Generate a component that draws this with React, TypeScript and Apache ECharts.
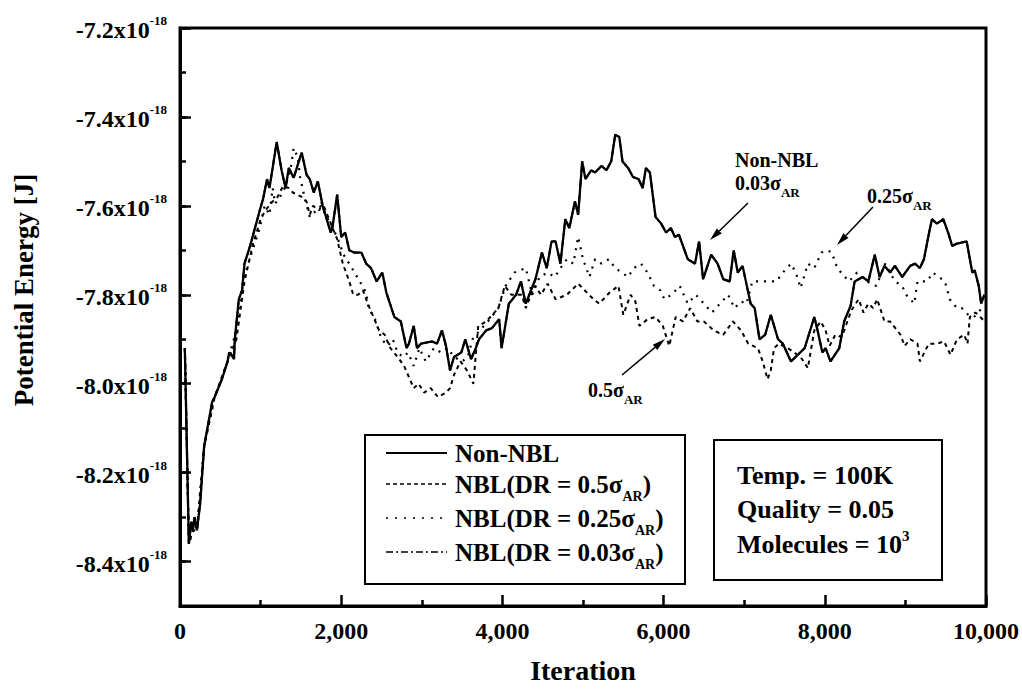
import React, { useEffect, useRef } from "react";
import * as echarts from "echarts";

const FONT = "'Liberation Serif', 'Times New Roman', serif";

// Potential energy in units of 1e-18 J against iteration count
const nonNbl: number[][] = [
  [60, -7.92], [110, -8.36], [140, -8.31], [160, -8.33], [180, -8.30], [210, -8.33], [250, -8.27], [300, -8.14],
  [400, -8.04], [430, -8.03], [520, -7.99], [590, -7.95], [610, -7.93], [640, -7.935], [670, -7.945], [680, -7.90],
  [730, -7.81], [770, -7.79], [800, -7.73], [870, -7.69], [930, -7.65], [990, -7.61], [1030, -7.585], [1080, -7.54],
  [1110, -7.56], [1200, -7.456], [1260, -7.52], [1310, -7.56], [1350, -7.515], [1410, -7.537], [1510, -7.48],
  [1570, -7.53], [1610, -7.54], [1660, -7.57], [1710, -7.545], [1770, -7.60], [1870, -7.66], [1890, -7.65],
  [1950, -7.575], [2000, -7.67], [2050, -7.66], [2100, -7.70], [2160, -7.705], [2250, -7.705], [2310, -7.73],
  [2370, -7.74], [2440, -7.77], [2510, -7.75], [2560, -7.795], [2660, -7.85], [2740, -7.86], [2810, -7.92],
  [2840, -7.91], [2900, -7.87], [2940, -7.92], [2990, -7.91], [3130, -7.905], [3190, -7.91], [3250, -7.88],
  [3300, -7.915], [3350, -7.97], [3400, -7.94], [3490, -7.93], [3540, -7.90], [3610, -7.945], [3670, -7.92],
  [3710, -7.90], [3800, -7.88], [3870, -7.875], [3960, -7.855], [3990, -7.92], [4080, -7.82], [4170, -7.80],
  [4230, -7.77], [4290, -7.82], [4410, -7.765], [4490, -7.705], [4550, -7.74], [4610, -7.68], [4660, -7.68],
  [4720, -7.73], [4780, -7.63], [4830, -7.65], [4900, -7.59], [4940, -7.62], [4990, -7.50], [5030, -7.54],
  [5100, -7.52], [5150, -7.525], [5230, -7.51], [5290, -7.52], [5350, -7.50], [5400, -7.44], [5450, -7.445],
  [5490, -7.50], [5560, -7.515], [5620, -7.535], [5690, -7.54], [5740, -7.56], [5780, -7.515], [5830, -7.525],
  [5900, -7.625], [5970, -7.64], [6030, -7.66], [6090, -7.65], [6140, -7.67], [6190, -7.665], [6240, -7.69],
  [6300, -7.72], [6390, -7.73], [6440, -7.68], [6490, -7.765], [6590, -7.71], [6670, -7.73], [6740, -7.765],
  [6820, -7.77], [6870, -7.70], [6920, -7.75], [6980, -7.735], [7080, -7.82], [7130, -7.83], [7190, -7.90],
  [7260, -7.89], [7330, -7.845], [7420, -7.90], [7480, -7.91], [7580, -7.95], [7750, -7.92], [7870, -7.85],
  [7910, -7.88], [7970, -7.93], [8010, -7.92], [8070, -7.95], [8180, -7.92], [8240, -7.86], [8320, -7.825],
  [8370, -7.77], [8470, -7.76], [8540, -7.77], [8620, -7.71], [8680, -7.76], [8740, -7.735], [8810, -7.75],
  [8870, -7.735], [8960, -7.76], [9060, -7.735], [9120, -7.73], [9180, -7.74], [9230, -7.72], [9300, -7.655],
  [9330, -7.63], [9390, -7.64], [9470, -7.63], [9530, -7.66], [9580, -7.69], [9640, -7.685], [9760, -7.68],
  [9830, -7.75], [9860, -7.745], [9910, -7.78], [9940, -7.82], [9980, -7.80],
];

const nbl05: number[][] = [
  [60, -7.92], [110, -8.36], [160, -8.33], [210, -8.33], [300, -8.14], [430, -8.03], [590, -7.95], [700, -7.90],
  [800, -7.77], [900, -7.69], [1000, -7.63], [1060, -7.61], [1150, -7.59], [1210, -7.58], [1280, -7.555],
  [1350, -7.56], [1400, -7.57], [1510, -7.58], [1570, -7.59], [1610, -7.62], [1650, -7.60], [1730, -7.61],
  [1760, -7.59], [1950, -7.675], [2020, -7.73], [2100, -7.77], [2150, -7.80], [2210, -7.80], [2270, -7.79],
  [2330, -7.82], [2400, -7.85], [2470, -7.88], [2540, -7.89], [2610, -7.92], [2700, -7.94], [2780, -7.96],
  [2840, -7.985], [2900, -8.01], [2960, -8.00], [3030, -8.02], [3110, -8.01], [3200, -8.03], [3300, -8.02],
  [3350, -8.01], [3400, -7.98], [3480, -7.95], [3560, -7.97], [3640, -8.00], [3700, -7.87], [3800, -7.86],
  [3950, -7.83], [4030, -7.78], [4110, -7.80], [4240, -7.80], [4290, -7.83], [4400, -7.78], [4480, -7.80],
  [4560, -7.775], [4660, -7.81], [4800, -7.80], [4940, -7.775], [5020, -7.79], [5130, -7.81], [5200, -7.82],
  [5330, -7.795], [5440, -7.78], [5500, -7.845], [5590, -7.80], [5650, -7.815], [5700, -7.87], [5800, -7.855],
  [5900, -7.85], [5990, -7.87], [6070, -7.915], [6150, -7.85], [6240, -7.86], [6330, -7.83], [6420, -7.86],
  [6500, -7.86], [6620, -7.88], [6740, -7.89], [6860, -7.86], [6960, -7.88], [7050, -7.91], [7170, -7.92],
  [7230, -7.95], [7290, -7.99], [7330, -7.97], [7370, -7.92], [7430, -7.91], [7540, -7.92], [7620, -7.93],
  [7700, -7.94], [7790, -7.965], [7870, -7.88], [7950, -7.86], [8010, -7.88], [8060, -7.915], [8130, -7.89],
  [8210, -7.895], [8290, -7.855], [8330, -7.835], [8420, -7.81], [8480, -7.84], [8540, -7.82], [8600, -7.83],
  [8650, -7.81], [8740, -7.86], [8810, -7.86], [8940, -7.89], [8990, -7.915], [9060, -7.90], [9150, -7.91],
  [9180, -7.95], [9290, -7.91], [9390, -7.91], [9480, -7.905], [9560, -7.935], [9640, -7.90], [9730, -7.89],
  [9770, -7.91], [9800, -7.85], [9870, -7.84], [9930, -7.85], [9980, -7.86],
];

const nbl025: number[][] = [
  [60, -7.92], [110, -8.36], [160, -8.33], [210, -8.33], [300, -8.14], [430, -8.03], [590, -7.95], [700, -7.88],
  [780, -7.77], [830, -7.74], [900, -7.70], [990, -7.65], [1050, -7.60], [1110, -7.62], [1150, -7.56],
  [1180, -7.595], [1240, -7.58], [1300, -7.56], [1370, -7.52], [1410, -7.47], [1460, -7.49], [1490, -7.535],
  [1550, -7.585], [1610, -7.625], [1690, -7.61], [1750, -7.60], [1950, -7.67], [2030, -7.71], [2100, -7.73],
  [2230, -7.77], [2310, -7.795], [2340, -7.83], [2420, -7.855], [2500, -7.90], [2580, -7.915], [2640, -7.90],
  [2700, -7.93], [2770, -7.94], [2830, -7.93], [2900, -7.96], [2970, -7.92], [3050, -7.95], [3150, -7.92],
  [3240, -7.93], [3320, -7.92], [3400, -7.94], [3500, -7.95], [3570, -7.94], [3630, -7.90], [3720, -7.88],
  [3820, -7.86], [3950, -7.83], [4040, -7.78], [4150, -7.75], [4290, -7.74], [4370, -7.80], [4460, -7.76],
  [4560, -7.75], [4650, -7.76], [4720, -7.74], [4800, -7.72], [4880, -7.73], [4940, -7.67], [5000, -7.72],
  [5080, -7.76], [5150, -7.72], [5230, -7.73], [5320, -7.72], [5400, -7.74], [5480, -7.75], [5560, -7.76],
  [5630, -7.74], [5720, -7.73], [5800, -7.75], [5880, -7.78], [5960, -7.79], [6010, -7.81], [6100, -7.80],
  [6200, -7.78], [6300, -7.82], [6400, -7.80], [6500, -7.82], [6600, -7.84], [6700, -7.82], [6800, -7.80],
  [6880, -7.83], [6960, -7.815], [7030, -7.82], [7100, -7.77], [7200, -7.77], [7300, -7.77], [7400, -7.77],
  [7480, -7.75], [7580, -7.73], [7640, -7.75], [7700, -7.785], [7790, -7.73], [7870, -7.74], [7960, -7.705],
  [8030, -7.70], [8090, -7.705], [8130, -7.73], [8200, -7.75], [8300, -7.77], [8400, -7.75], [8520, -7.77],
  [8640, -7.78], [8750, -7.73], [8870, -7.77], [8960, -7.78], [9010, -7.80], [9110, -7.82], [9150, -7.77],
  [9270, -7.77], [9340, -7.75], [9490, -7.77], [9550, -7.81], [9640, -7.83], [9700, -7.83], [9780, -7.845],
  [9850, -7.85], [9950, -7.83],
];

// The 0.03 sigma run lies on top of the Non-NBL run
const nbl003: number[][] = nonNbl;

const yMajorTicks = [-8.4, -8.2, -8.0, -7.8, -7.6, -7.4, -7.2];
const yMin = -8.5;
const yMax = -7.2;
const xMin = 0;
const xMax = 10000;

const legendRows = [
  { text: "{m|Non-NBL}", dash: null as number[] | null },
  { text: "{m|NBL(DR = 0.5σ}{s|AR}{m|)}", dash: [4, 3] },
  { text: "{m|NBL(DR = 0.25σ}{s|AR}{m|)}", dash: [2, 7] },
  { text: "{m|NBL(DR = 0.03σ}{s|AR}{m|)}", dash: [7, 3, 2, 3] },
];

const infoLines = ["{m|Temp. = 100K}", "{m|Quality = 0.05}", "{m|Molecules = 10}{p|3}"];

const subRich = (main: number, sub: number, drop: number) => ({
  m: { fontSize: main, fontWeight: "bold", fontFamily: FONT, color: "#000", verticalAlign: "top" },
  s: { fontSize: sub, fontWeight: "bold", fontFamily: FONT, color: "#000", verticalAlign: "top", padding: [drop, 0, 0, 0] },
});

function arrow(x1: number, y1: number, x2: number, y2: number) {
  const ang = Math.atan2(y2 - y1, x2 - x1);
  const len = 13;
  const half = 3.5;
  const bx = x2 - len * Math.cos(ang);
  const by = y2 - len * Math.sin(ang);
  const px = -Math.sin(ang) * half;
  const py = Math.cos(ang) * half;
  return [
    { type: "line", shape: { x1, y1, x2: bx, y2: by }, style: { stroke: "#000", lineWidth: 1.5 } },
    {
      type: "polygon",
      shape: { points: [[x2, y2], [bx + px, by + py], [bx - px, by - py]] },
      style: { fill: "#000" },
    },
  ];
}

export default function App() {
  const ref = useRef<HTMLDivElement>(null);

  useEffect(() => {
    if (!ref.current) return;
    const chart = echarts.init(ref.current, null, { renderer: "svg" });

    const legendGraphics: any[] = [
      {
        type: "rect",
        shape: { x: 365, y: 435, width: 320, height: 149 },
        style: { fill: "#fff", stroke: "#000", lineWidth: 2 },
      },
    ];
    const rowY = [453, 484, 518, 552];
    legendRows.forEach((row, i) => {
      legendGraphics.push({
        type: "line",
        shape: { x1: 386, y1: rowY[i], x2: 447, y2: rowY[i] },
        style: { stroke: "#000", lineWidth: row.dash ? 1.6 : 2, lineDash: row.dash || undefined },
      });
      legendGraphics.push({
        type: "text",
        x: 455,
        y: rowY[i] - 12.5,
        style: { text: row.text, rich: subRich(25, 14, 18), verticalAlign: "top", align: "left" },
      });
    });

    const infoGraphics: any[] = [
      {
        type: "rect",
        shape: { x: 714, y: 440, width: 228, height: 140 },
        style: { fill: "#fff", stroke: "#000", lineWidth: 2 },
      },
    ];
    const infoBaseY = [462, 496, 528];
    infoLines.forEach((t, i) => {
      infoGraphics.push({
        type: "text",
        x: 737,
        y: infoBaseY[i],
        style: {
          text: t,
          verticalAlign: "top",
          align: "left",
          rich: {
            m: { fontSize: 26, fontWeight: "bold", fontFamily: FONT, color: "#000", verticalAlign: "bottom" },
            p: { fontSize: 15, fontWeight: "bold", fontFamily: FONT, color: "#000", verticalAlign: "top", padding: [0, 0, 14, 0] },
          },
        },
      });
    });

    const noteRich = subRich(20, 13, 13);
    const notes: any[] = [
      { type: "text", x: 735, y: 150, style: { text: "{m|Non-NBL}", rich: noteRich } },
      { type: "text", x: 735, y: 173, style: { text: "{m|0.03σ}{s|AR}", rich: noteRich } },
      { type: "text", x: 867, y: 186, style: { text: "{m|0.25σ}{s|AR}", rich: noteRich } },
      { type: "text", x: 588, y: 380, style: { text: "{m|0.5σ}{s|AR}", rich: noteRich } },
      ...arrow(748, 203, 710, 240),
      ...arrow(873, 207, 837, 245),
      ...arrow(622, 375, 665, 339),
    ];

    const yName = {
      type: "text",
      x: 24,
      y: 290,
      rotation: Math.PI / 2,
      style: {
        text: "Potential Energy [J]",
        font: `bold 27px ${FONT}`,
        fill: "#000",
        align: "center",
        verticalAlign: "middle",
      },
    };

    const tickStyle = { color: "#000", width: 2.5 };

    chart.setOption({
      animation: false,
      backgroundColor: "#fff",
      grid: {
        left: 180,
        top: 28,
        right: 33,
        bottom: 82,
        show: true,
        borderColor: "#000",
        borderWidth: 3,
        backgroundColor: "transparent",
      },
      xAxis: {
        type: "value",
        min: xMin,
        max: xMax,
        interval: 2000,
        name: "Iteration",
        nameLocation: "middle",
        nameGap: 50,
        nameTextStyle: { fontSize: 28, fontWeight: "bold", fontFamily: FONT, color: "#000" },
        axisLine: { show: true, onZero: false, lineStyle: { color: "#000", width: 3 } },
        axisTick: { show: true, inside: true, length: 11, lineStyle: tickStyle },
        minorTick: { show: true, splitNumber: 2, length: 6, lineStyle: tickStyle },
        axisLabel: {
          margin: 13,
          fontSize: 24,
          fontWeight: "bold",
          fontFamily: FONT,
          color: "#000",
          formatter: (v: number) => Math.round(v).toLocaleString("en-US"),
        },
        splitLine: { show: false },
        minorSplitLine: { show: false },
      },
      yAxis: [
        {
          type: "value",
          min: yMin,
          max: yMax,
          interval: 0.1,
          axisLine: { show: true, onZero: false, lineStyle: { color: "#000", width: 3 } },
          axisTick: { show: true, inside: true, length: 6, lineStyle: tickStyle },
          axisLabel: {
            margin: 13,
            formatter: (v: number) => {
              const t = Math.round(v * 10);
              if (t % 2 !== 0) return "";
              return `{n|${(t / 10).toFixed(1)}x10}{s|-18}`;
            },
            rich: {
              n: { fontSize: 24, fontWeight: "bold", fontFamily: FONT, color: "#000", verticalAlign: "bottom" },
              s: { fontSize: 13, fontWeight: "bold", fontFamily: FONT, color: "#000", verticalAlign: "top", padding: [0, 0, 15, 0] },
            },
          },
          splitLine: { show: false },
        },
        {
          type: "value",
          min: yMin,
          max: yMax,
          position: "left",
          axisLine: { show: false },
          axisTick: { show: true, inside: true, length: 11, lineStyle: tickStyle, customValues: yMajorTicks },
          axisLabel: { show: false },
          splitLine: { show: false },
        },
      ],
      series: [
        {
          name: "NBL(DR = 0.03σAR)",
          type: "line",
          data: nbl003,
          showSymbol: false,
          symbol: "none",
          lineStyle: { color: "#000", width: 2, type: [7, 3, 2, 3] },
        },
        {
          name: "NBL(DR = 0.5σAR)",
          type: "line",
          data: nbl05,
          showSymbol: false,
          symbol: "none",
          lineStyle: { color: "#000", width: 2, type: [4, 4] },
        },
        {
          name: "NBL(DR = 0.25σAR)",
          type: "line",
          data: nbl025,
          showSymbol: false,
          symbol: "none",
          lineStyle: { color: "#000", width: 2.2, type: [2, 6] },
        },
        {
          name: "Non-NBL",
          type: "line",
          data: nonNbl,
          showSymbol: false,
          symbol: "none",
          lineStyle: { color: "#000", width: 2.3, type: "solid" },
        },
      ],
      graphic: [yName, ...legendGraphics, ...infoGraphics, ...notes],
    });

    return () => chart.dispose();
  }, []);

  return (
    <div
      ref={ref}
      style={{ position: "absolute", left: 0, top: 0, width: 1022, height: 689, background: "#fff" }}
    />
  );
}
